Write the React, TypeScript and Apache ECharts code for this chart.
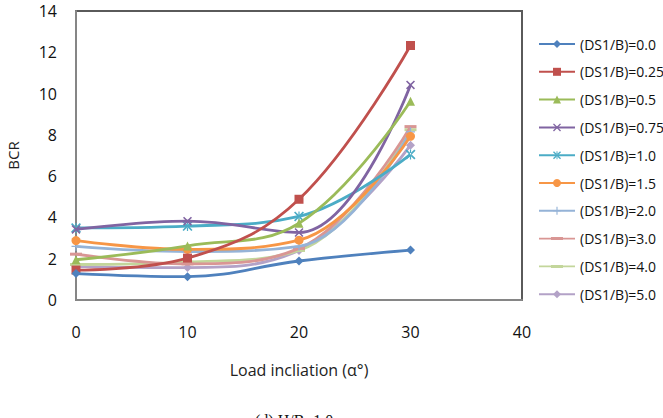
import React, { useEffect, useRef } from "react";
import * as echarts from "echarts";

// Load inclination angles (degrees)
const angles = [0, 10, 20, 30];

// BCR per (DS1/B) ratio
const seriesNames = [
  "(DS1/B)=0.0",
  "(DS1/B)=0.25",
  "(DS1/B)=0.5",
  "(DS1/B)=0.75",
  "(DS1/B)=1.0",
  "(DS1/B)=1.5",
  "(DS1/B)=2.0",
  "(DS1/B)=3.0",
  "(DS1/B)=4.0",
  "(DS1/B)=5.0",
];
const bcr00 = [1.28, 1.13, 1.89, 2.42];
const bcr025 = [1.45, 2.03, 4.88, 12.33];
const bcr05 = [1.95, 2.62, 3.72, 9.63];
const bcr075 = [3.42, 3.82, 3.27, 10.42];
const bcr10 = [3.49, 3.58, 4.05, 7.05];
const bcr15 = [2.88, 2.45, 2.9, 7.93];
const bcr20 = [2.6, 2.35, 2.6, 8.15];
const bcr30 = [2.22, 1.75, 2.5, 8.4];
const bcr40 = [1.72, 1.83, 2.4, 8.25];
const bcr50 = [1.62, 1.57, 2.4, 7.5];

const seriesValues = [bcr00, bcr025, bcr05, bcr075, bcr10, bcr15, bcr20, bcr30, bcr40, bcr50];

const yTicks = [0, 14, 2];
const xTicks = [0, 40, 10];

const colors = [
  "#4F81BD",
  "#C0504D",
  "#9BBB59",
  "#8064A2",
  "#4BACC6",
  "#F79646",
  "#95B3D7",
  "#D99694",
  "#C3D69B",
  "#B3A2C7",
];

const crossPath =
  "path://M0,1.2L1.2,0L5,3.8L8.8,0L10,1.2L6.2,5L10,8.8L8.8,10L5,6.2L1.2,10L0,8.8L3.8,5Z";
const starPath =
  "path://M0,1.2L1.2,0L5,3.8L8.8,0L10,1.2L6.2,5L10,8.8L8.8,10L5,6.2L1.2,10L0,8.8L3.8,5ZM4.4,0L4.4,10L5.6,10L5.6,0Z";
const plusPath = "path://M4.3,0L5.7,0L5.7,4.3L10,4.3L10,5.7L5.7,5.7L5.7,10L4.3,10L4.3,5.7L0,5.7L0,4.3L4.3,4.3Z";
const dashPath = "path://M0,0L10,0L10,2.5L0,2.5Z";
// legend glyph for the dash-marker series: a line with a thicker dash at its middle
const dashLegendIcon = "path://M0,0.6L36,0.6L36,2.4L0,2.4ZM12,0L24,0L24,3L12,3Z";

const symbols: any[] = [
  ["diamond", 9, false],
  ["rect", 9, false],
  ["triangle", 9, false],
  [crossPath, 9, false],
  [starPath, 10, false],
  ["circle", 9, false],
  [plusPath, 9, false],
  [dashPath, 12, true],
  [dashPath, 12, true],
  ["diamond", 9, false],
];

export default function App() {
  const ref = useRef<HTMLDivElement>(null);

  useEffect(() => {
    if (!ref.current) return;
    const chart = echarts.init(ref.current, undefined, { renderer: "svg" });
    const font = "'Open Sans', sans-serif";

    const series = seriesNames.map((name, i) => ({
      name,
      type: "line",
      data: angles.map((a, j) => [a, seriesValues[i][j]]),
      smooth: 0.4,
      symbol: symbols[i][0],
      symbolSize: symbols[i][1],
      symbolKeepAspect: symbols[i][2],
      showSymbol: true,
      lineStyle: { color: colors[i], width: 2.8 },
      itemStyle: { color: colors[i] },
      z: 10 - i,
    }));

    const legendData = seriesNames.map((name, i) =>
      symbols[i][0] === dashPath ? { name, icon: dashLegendIcon, itemStyle: { color: colors[i] } } : { name }
    );

    chart.setOption({
      animation: false,
      color: colors,
      grid: {
        left: 76,
        right: 141,
        top: 11,
        bottom: 118,
        show: true,
        borderColor: "#5a5a5a",
        borderWidth: 2,
        outerBoundsMode: "none",
        containLabel: false,
      },
      xAxis: {
        type: "value",
        min: xTicks[0],
        max: xTicks[1],
        interval: xTicks[2],
        name: "Load incliation (\u03b1\u00b0)",
        nameLocation: "middle",
        nameGap: 62,
        nameTextStyle: { fontFamily: font, fontSize: 16, color: "#222" },
        axisLine: { show: true, lineStyle: { color: "#868686", width: 2 } },
        axisTick: { show: false },
        splitLine: { show: false },
        axisLabel: { fontFamily: font, fontSize: 16, color: "#111", margin: 24 },
      },
      yAxis: {
        type: "value",
        min: yTicks[0],
        max: yTicks[1],
        interval: yTicks[2],
        name: "BCR",
        nameLocation: "middle",
        nameGap: 56,
        nameRotate: 90,
        nameTextStyle: { fontFamily: font, fontSize: 15, color: "#222" },
        axisLine: { show: true, lineStyle: { color: "#868686", width: 2 } },
        axisTick: { show: false },
        splitLine: { show: false },
        axisLabel: { fontFamily: font, fontSize: 16, color: "#111", margin: 19 },
      },
      legend: {
        orient: "vertical",
        left: 533,
        top: 32,
        itemWidth: 36,
        itemHeight: 10,
        itemGap: 13.8,
        textStyle: { fontFamily: font, fontSize: 14, color: "#111" },
        data: legendData,
      },
      graphic: [
        {
          type: "text",
          left: 255,
          top: 412,
          style: {
            text: "(d) H/B=1.0",
            font: "16px 'Liberation Serif', serif",
            fill: "#111",
          },
        },
      ],
      series,
    });

    return () => chart.dispose();
  }, []);

  return <div ref={ref} style={{ width: 663, height: 418, position: "absolute", left: 0, top: 0, background: "#fff" }} />;
}
